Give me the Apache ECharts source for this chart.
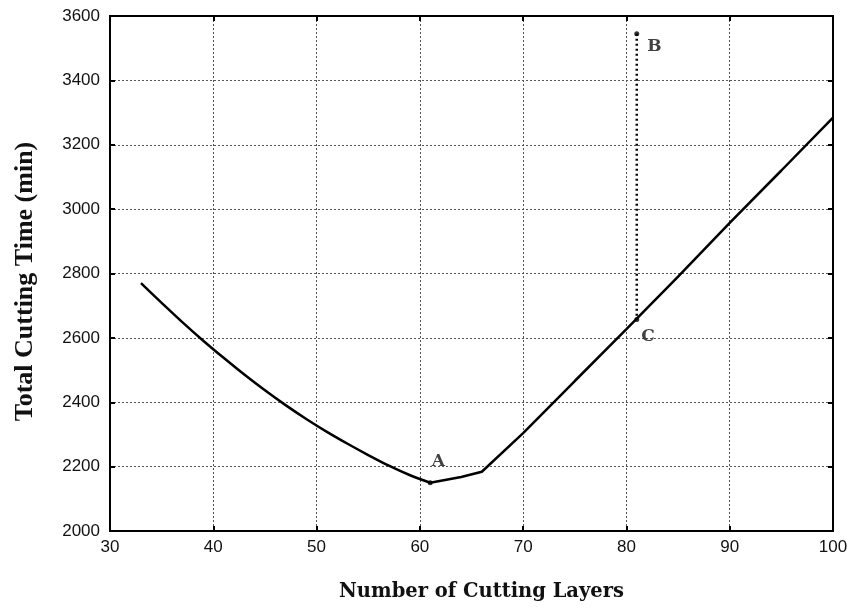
<!DOCTYPE html>
<html>
<head>
<meta charset="utf-8">
<script src="https://cdn.jsdelivr.net/npm/echarts@6/dist/echarts.min.js"></script>
<style>
  html, body { margin: 0; padding: 0; background: #fff; }
  #chart { width: 852px; height: 608px; }
</style>
</head>
<body>
<div id="chart"></div>
<script>
// Total cutting time against number of cutting layers.
// Falling branch (up to the optimum A) is a smooth curve.
const layersFalling = [33, 35, 37, 39, 41, 43, 45, 47, 49, 51, 53, 55, 57, 59, 61];
const timeFalling = [2770, 2709, 2649, 2592, 2538, 2486, 2437, 2391, 2348, 2308, 2271, 2236, 2203, 2174, 2150];
// Rising branch after the optimum, with a bend near 66 layers
const layersRising = [61, 64, 66, 70, 75, 80, 85, 90, 95, 100];
const timeRising = [2150, 2168, 2184, 2304, 2466, 2627, 2790, 2957, 3120, 3284];

// Marked points A (optimum), B and C
const pointNames = ['A', 'B', 'C'];
const pointLayers = [61, 81, 81];
const pointTimes = [2150, 3545, 2657];

// Axis tick settings
const xTicks = { min: 30, max: 100, step: 10 };
const yTicks = { min: 2000, max: 3600, step: 200 };

const xTitleFont = 'DejaVu Serif';
const yTitleFont = 'Liberation Serif';
const tickFont = 'Liberation Sans';

const labelOffsets = { A: [-6, -21], B: [3, 13], C: [-3, 17] };

const gridLine = { show: true, lineStyle: { color: '#555', type: [2, 2], width: 1 } };
const tickIn = { show: true, inside: true, length: 5, lineStyle: { color: '#000', width: 2 } };
const blackLine = { show: true, onZero: false, lineStyle: { color: '#000', width: 2 } };
const plainNum = v => String(v);

const chart = echarts.init(document.getElementById('chart'), null, { renderer: 'canvas' });
chart.setOption({
  animation: false,
  backgroundColor: '#fff',
  grid: { left: 110, right: 19, top: 16, bottom: 77, show: true, borderColor: '#000', borderWidth: 2 },
  xAxis: [{
    type: 'value', min: xTicks.min, max: xTicks.max, interval: xTicks.step,
    name: 'Number of Cutting Layers', nameLocation: 'middle', nameGap: 51,
    nameTextStyle: { fontFamily: xTitleFont, fontWeight: 'bold', fontSize: 19.5, color: '#111', padding: [0, 0, 0, 20] },
    axisLine: blackLine, axisTick: tickIn, splitLine: gridLine,
    axisLabel: { fontFamily: tickFont, fontSize: 17, color: '#111', margin: 8, formatter: plainNum }
  }, {
    type: 'value', position: 'top', min: xTicks.min, max: xTicks.max, interval: xTicks.step,
    axisLine: blackLine, axisTick: tickIn, splitLine: { show: false }, axisLabel: { show: false }
  }],
  yAxis: [{
    type: 'value', min: yTicks.min, max: yTicks.max, interval: yTicks.step,
    name: 'Total Cutting Time (min)', nameLocation: 'middle', nameGap: 72,
    nameTextStyle: { fontFamily: yTitleFont, fontWeight: 'bold', fontSize: 26, color: '#111', padding: [0, 16, 0, 0] },
    axisLine: blackLine, axisTick: tickIn, splitLine: gridLine,
    axisLabel: { fontFamily: tickFont, fontSize: 17, color: '#111', margin: 10, formatter: plainNum }
  }, {
    type: 'value', position: 'right', min: yTicks.min, max: yTicks.max, interval: yTicks.step,
    axisLine: blackLine, axisTick: tickIn, splitLine: { show: false }, axisLabel: { show: false }
  }],
  series: [{
    type: 'line',
    data: layersFalling.map((x, i) => [x, timeFalling[i]]),
    symbol: 'none', smooth: 0.3,
    lineStyle: { color: '#000', width: 2.5 },
    z: 3
  }, {
    type: 'line',
    data: layersRising.map((x, i) => [x, timeRising[i]]),
    symbol: 'none',
    lineStyle: { color: '#000', width: 2.5 },
    z: 3
  }, {
    type: 'line',
    data: [[pointLayers[1], pointTimes[1]], [pointLayers[2], pointTimes[2]]],
    symbol: 'none',
    lineStyle: { color: '#000', width: 2.5, type: [2, 3] },
    z: 3
  }, {
    type: 'scatter',
    data: pointNames.map((n, i) => ({ name: n, value: [pointLayers[i], pointTimes[i]] })),
    symbol: 'circle', symbolSize: 5,
    itemStyle: { color: '#000' },
    label: {
      show: true,
      formatter: p => p.name,
      fontFamily: xTitleFont, fontWeight: 'bold', fontSize: 17, color: '#111',
      position: 'right'
    },
    labelLayout: p => {
      const o = labelOffsets[pointNames[p.dataIndex]];
      return { dx: o[0], dy: o[1] };
    },
    z: 4
  }]
});
</script>
</body>
</html>
